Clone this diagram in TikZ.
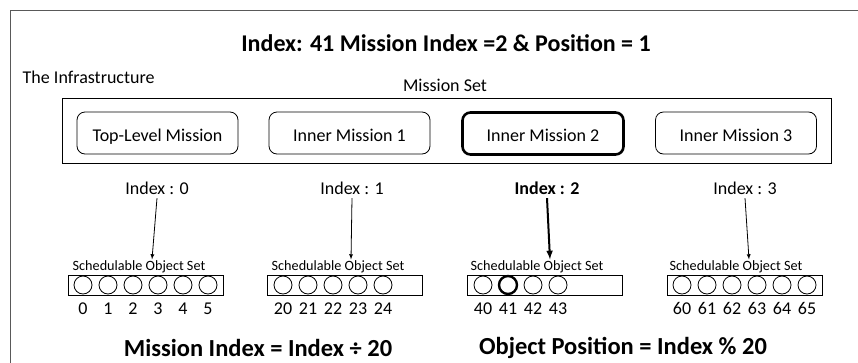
\documentclass[tikz,border=0pt]{standalone}
\usepackage{fontspec}
\setmainfont{Carlito}
\usepackage{tikz}

\tikzset{
  mission/.style={draw, rounded corners=8pt, minimum width=161pt, minimum height=42pt, text height=16pt, text depth=0pt, font=\fontsize{18}{21}\selectfont},
  objset/.style={draw, minimum width=155pt, minimum height=20pt, inner sep=0pt},
  slot/.style={draw, circle, minimum size=18pt, inner sep=0pt},
  setlabel/.style={font=\fontsize{14.2}{16}\selectfont, inner sep=1pt},
  idxlabel/.style={font=\fontsize{18}{21}\selectfont},
  num/.style={font=\fontsize{18}{20}\selectfont, inner sep=0pt, anchor=base},
  formula/.style={font=\bfseries\fontsize{24.5}{28}\selectfont}
}

\begin{document}
\begin{tikzpicture}[x=1pt,y=-1pt,>=latex,line width=0.8pt]
\useasboundingbox (0,0) rectangle (858,362);
% outer frame, cut off at the right and bottom
\draw [black!65] (10,370) -- (10,10) -- (870,10);

\node [font=\bfseries\fontsize{24}{28}\selectfont] (title) at (446,43) {Index: 41 Mission Index =2 \& Position = 1};
\node [anchor=west, font=\fontsize{18}{21}\selectfont] (infra) at (19,77) {The Infrastructure};

% mission set
\node [font=\fontsize{18}{21}\selectfont] (msetlabel) at (445,85) {Mission Set};
\node [draw, minimum width=769pt, minimum height=65pt] (mset) at (446.5,130.5) {};
\node [mission] (m0) at (157.5,133) {Top-Level Mission};
\node [mission] (m1) at (349.5,133) {Inner Mission 1};
\node [mission, line width=2.6pt] (m2) at (543,133.5) {Inner Mission 2};
\node [mission] (m3) at (736,133) {Inner Mission 3};

\node [idxlabel] (idx0) at (157,188) {Index : 0};
\node [idxlabel] (idx1) at (352,188) {Index : 1};
\node [idxlabel, font=\bfseries\fontsize{18}{21}\selectfont] (idx2) at (547,188) {Index : 2};
\node [idxlabel] (idx3) at (745,188) {Index : 3};

% schedulable object sets
\node [setlabel] (s0lbl) at (139,267) {Schedulable Object Set};
\node [setlabel] (s1lbl) at (338,267) {Schedulable Object Set};
\node [setlabel] (s2lbl) at (537,267) {Schedulable Object Set};
\node [setlabel] (s3lbl) at (736,267) {Schedulable Object Set};

\draw [->] (idx0.south) -- ([xshift=13pt]s0lbl.north);
\draw [->] (idx1.south) -- ([xshift=13pt]s1lbl.north);
\draw [->, line width=2pt] (idx2.south) -- ([xshift=13pt]s2lbl.north);
\draw [->] (idx3.south) -- ([xshift=13pt]s3lbl.north);

\node [objset] (s0) at (145.5,285) {};
\node [objset] (s1) at (345,285) {};
\node [objset] (s2) at (545,285) {};
\node [objset] (s3) at (744.5,285) {};

\node [slot] (o0) at (83,285) {};
\node [slot] (o1) at (108,285) {};
\node [slot] (o2) at (133,285) {};
\node [slot] (o3) at (158,285) {};
\node [slot] (o4) at (183,285) {};
\node [slot] (o5) at (208,285) {};
\node [num] at (83,314) {0};
\node [num] at (108,314) {1};
\node [num] at (133,314) {2};
\node [num] at (158,314) {3};
\node [num] at (183,314) {4};
\node [num] at (208,314) {5};

\node [slot] (o20) at (283,285) {};
\node [slot] (o21) at (308,285) {};
\node [slot] (o22) at (333,285) {};
\node [slot] (o23) at (358,285) {};
\node [slot] (o24) at (383,285) {};
\node [num] at (283,314) {20};
\node [num] at (308,314) {21};
\node [num] at (333,314) {22};
\node [num] at (358,314) {23};
\node [num] at (383,314) {24};

\node [slot] (o40) at (483,285) {};
\node [slot, line width=2.4pt] (o41) at (508,285) {};
\node [slot] (o42) at (533,285) {};
\node [slot] (o43) at (558,285) {};
\node [num] at (483,314) {40};
\node [num] at (508,314) {41};
\node [num] at (533,314) {42};
\node [num] at (558,314) {43};

\node [slot] (o60) at (682,285) {};
\node [slot] (o61) at (707,285) {};
\node [slot] (o62) at (732,285) {};
\node [slot] (o63) at (757,285) {};
\node [slot] (o64) at (782,285) {};
\node [slot] (o65) at (807,285) {};
\node [num] at (682,314) {60};
\node [num] at (707,314) {61};
\node [num] at (732,314) {62};
\node [num] at (757,314) {63};
\node [num] at (782,314) {64};
\node [num] at (807,314) {65};

% formulas
\node [formula] (fmission) at (258,348) {Mission Index = Index ÷ 20};
\node [formula] (fpos) at (623,348) {Object Position = Index \% 20};

\end{tikzpicture}
\end{document}
